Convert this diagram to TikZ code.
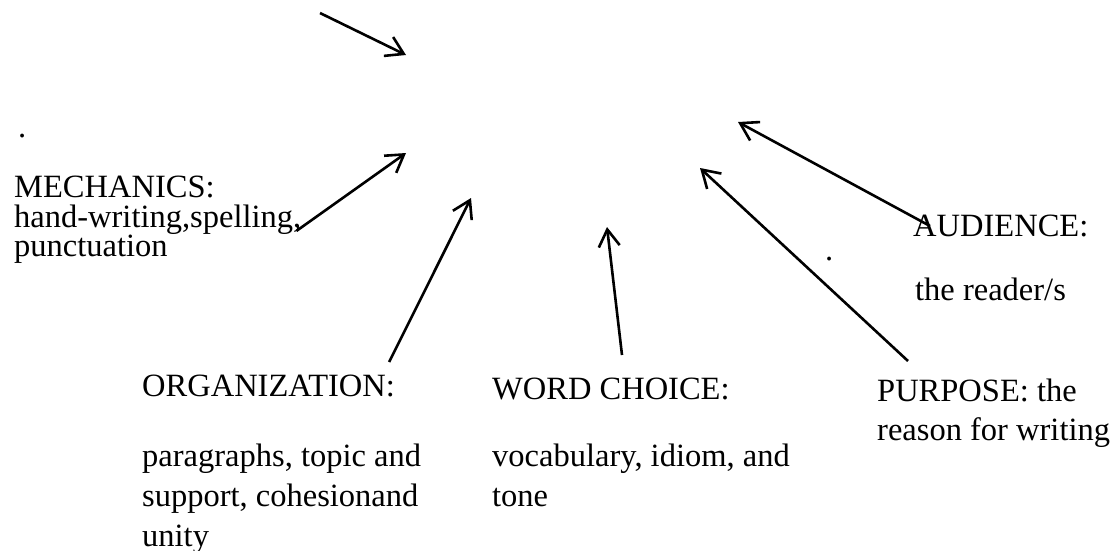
\documentclass[tikz,border=0pt]{standalone}
\usepackage{fontspec}
\setmainfont{Liberation Serif}
\usetikzlibrary{arrows.meta, positioning}

\tikzset{
    txt/.style={anchor=north west, inner sep=0pt, align=left, font=\fontsize{32.5}{#1}\selectfont},
    txt/.default=32,
    arr/.style={line width=2.6pt, -{Straight Barb[length=17pt, width=21pt]}},
}

\begin{document}
\begin{tikzpicture}[x=1pt, y=-1pt]
    \useasboundingbox (0,0) rectangle (1110,550);

    % text blocks
    \node[txt, anchor=base west] (dotA) at (18,137) {.};
    \node[txt=29.5] (mech) at (14,176) {MECHANICS:\\hand-writing,spelling,\\punctuation};
    \node[txt] (orgHead) at (142,375) {ORGANIZATION:};
    \node[txt=40] (orgBody) at (142,444) {paragraphs, topic and\\support, cohesionand\\unity};
    \node[txt] (wordHead) at (492,378) {WORD CHOICE:};
    \node[txt=40] (wordBody) at (492,444) {vocabulary, idiom, and\\tone};
    \node[txt=39] (purp) at (877,379) {PURPOSE: the\\reason for writing};
    \node[txt] (audHead) at (913,215) {AUDIENCE:};
    \node[txt] (audBody) at (915,278) {the reader/s};
    \node[txt, anchor=base west] (dotB) at (825,260) {.};

    % arrow ends
    \coordinate (topTail) at (320,13);
    \coordinate (topHead) at (406,55);
    \coordinate (mechHead) at (406,153);
    \coordinate (orgHead') at (471,198);
    \coordinate (wordTail) at (622,355);
    \coordinate (wordHead') at (607,227);
    \coordinate (purpTail) at (908,361);
    \coordinate (purpHead) at (700,168);
    \coordinate (audTail) at (930,226);
    \coordinate (audHead') at (738,122);

    % arrows
    \draw[arr] (topTail) -- (topHead);
    \draw[arr] ([xshift=-5pt, yshift=-11pt]mech.east) -- (mechHead);
    \draw[arr] ([xshift=-6pt, yshift=13pt]orgHead.north east) -- (orgHead');
    \draw[arr] (wordTail) -- (wordHead');
    \draw[arr] (purpTail) -- (purpHead);
    \draw[arr] (audTail) -- (audHead');
\end{tikzpicture}
\end{document}
